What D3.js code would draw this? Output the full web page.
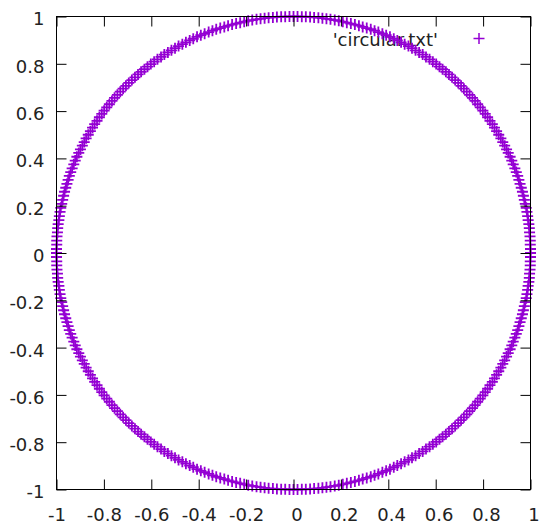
<!DOCTYPE html>
<html>
<head>
<meta charset="utf-8"/>
<script src="https://cdn.jsdelivr.net/npm/d3@7"></script>
<title>circular.txt</title>
<style>
body { margin: 0; background: #fff; }
svg text { font-family: "DejaVu Sans", sans-serif; font-size: 18px; fill: #222; }
</style>
</head>
<body>
<script>
// points, going round the circle
var xs = [
1.000,1.000,0.999,0.999,0.998,0.996,0.995,0.993,0.990,0.988,
0.985,0.982,0.978,0.974,0.970,0.966,0.961,0.956,0.951,0.946,
0.940,0.934,0.927,0.921,0.914,0.906,0.899,0.891,0.883,0.875,
0.866,0.857,0.848,0.839,0.829,0.819,0.809,0.799,0.788,0.777,
0.766,0.755,0.743,0.731,0.719,0.707,0.695,0.682,0.669,0.656,
0.643,0.629,0.616,0.602,0.588,0.574,0.559,0.545,0.530,0.515,
0.500,0.485,0.469,0.454,0.438,0.423,0.407,0.391,0.375,0.358,
0.342,0.326,0.309,0.292,0.276,0.259,0.242,0.225,0.208,0.191,
0.174,0.156,0.139,0.122,0.105,0.087,0.070,0.052,0.035,0.017,
0.000,-0.017,-0.035,-0.052,-0.070,-0.087,-0.105,-0.122,-0.139,-0.156,
-0.174,-0.191,-0.208,-0.225,-0.242,-0.259,-0.276,-0.292,-0.309,-0.326,
-0.342,-0.358,-0.375,-0.391,-0.407,-0.423,-0.438,-0.454,-0.469,-0.485,
-0.500,-0.515,-0.530,-0.545,-0.559,-0.574,-0.588,-0.602,-0.616,-0.629,
-0.643,-0.656,-0.669,-0.682,-0.695,-0.707,-0.719,-0.731,-0.743,-0.755,
-0.766,-0.777,-0.788,-0.799,-0.809,-0.819,-0.829,-0.839,-0.848,-0.857,
-0.866,-0.875,-0.883,-0.891,-0.899,-0.906,-0.914,-0.921,-0.927,-0.934,
-0.940,-0.946,-0.951,-0.956,-0.961,-0.966,-0.970,-0.974,-0.978,-0.982,
-0.985,-0.988,-0.990,-0.993,-0.995,-0.996,-0.998,-0.999,-0.999,-1.000,
-1.000,-1.000,-0.999,-0.999,-0.998,-0.996,-0.995,-0.993,-0.990,-0.988,
-0.985,-0.982,-0.978,-0.974,-0.970,-0.966,-0.961,-0.956,-0.951,-0.946,
-0.940,-0.934,-0.927,-0.921,-0.914,-0.906,-0.899,-0.891,-0.883,-0.875,
-0.866,-0.857,-0.848,-0.839,-0.829,-0.819,-0.809,-0.799,-0.788,-0.777,
-0.766,-0.755,-0.743,-0.731,-0.719,-0.707,-0.695,-0.682,-0.669,-0.656,
-0.643,-0.629,-0.616,-0.602,-0.588,-0.574,-0.559,-0.545,-0.530,-0.515,
-0.500,-0.485,-0.469,-0.454,-0.438,-0.423,-0.407,-0.391,-0.375,-0.358,
-0.342,-0.326,-0.309,-0.292,-0.276,-0.259,-0.242,-0.225,-0.208,-0.191,
-0.174,-0.156,-0.139,-0.122,-0.105,-0.087,-0.070,-0.052,-0.035,-0.017,
0.000,0.017,0.035,0.052,0.070,0.087,0.105,0.122,0.139,0.156,
0.174,0.191,0.208,0.225,0.242,0.259,0.276,0.292,0.309,0.326,
0.342,0.358,0.375,0.391,0.407,0.423,0.438,0.454,0.469,0.485,
0.500,0.515,0.530,0.545,0.559,0.574,0.588,0.602,0.616,0.629,
0.643,0.656,0.669,0.682,0.695,0.707,0.719,0.731,0.743,0.755,
0.766,0.777,0.788,0.799,0.809,0.819,0.829,0.839,0.848,0.857,
0.866,0.875,0.883,0.891,0.899,0.906,0.914,0.921,0.927,0.934,
0.940,0.946,0.951,0.956,0.961,0.966,0.970,0.974,0.978,0.982,
0.985,0.988,0.990,0.993,0.995,0.996,0.998,0.999,0.999,1.000
];
var ys = [
0.000,0.017,0.035,0.052,0.070,0.087,0.105,0.122,0.139,0.156,
0.174,0.191,0.208,0.225,0.242,0.259,0.276,0.292,0.309,0.326,
0.342,0.358,0.375,0.391,0.407,0.423,0.438,0.454,0.469,0.485,
0.500,0.515,0.530,0.545,0.559,0.574,0.588,0.602,0.616,0.629,
0.643,0.656,0.669,0.682,0.695,0.707,0.719,0.731,0.743,0.755,
0.766,0.777,0.788,0.799,0.809,0.819,0.829,0.839,0.848,0.857,
0.866,0.875,0.883,0.891,0.899,0.906,0.914,0.921,0.927,0.934,
0.940,0.946,0.951,0.956,0.961,0.966,0.970,0.974,0.978,0.982,
0.985,0.988,0.990,0.993,0.995,0.996,0.998,0.999,0.999,1.000,
1.000,1.000,0.999,0.999,0.998,0.996,0.995,0.993,0.990,0.988,
0.985,0.982,0.978,0.974,0.970,0.966,0.961,0.956,0.951,0.946,
0.940,0.934,0.927,0.921,0.914,0.906,0.899,0.891,0.883,0.875,
0.866,0.857,0.848,0.839,0.829,0.819,0.809,0.799,0.788,0.777,
0.766,0.755,0.743,0.731,0.719,0.707,0.695,0.682,0.669,0.656,
0.643,0.629,0.616,0.602,0.588,0.574,0.559,0.545,0.530,0.515,
0.500,0.485,0.469,0.454,0.438,0.423,0.407,0.391,0.375,0.358,
0.342,0.326,0.309,0.292,0.276,0.259,0.242,0.225,0.208,0.191,
0.174,0.156,0.139,0.122,0.105,0.087,0.070,0.052,0.035,0.017,
0.000,-0.017,-0.035,-0.052,-0.070,-0.087,-0.105,-0.122,-0.139,-0.156,
-0.174,-0.191,-0.208,-0.225,-0.242,-0.259,-0.276,-0.292,-0.309,-0.326,
-0.342,-0.358,-0.375,-0.391,-0.407,-0.423,-0.438,-0.454,-0.469,-0.485,
-0.500,-0.515,-0.530,-0.545,-0.559,-0.574,-0.588,-0.602,-0.616,-0.629,
-0.643,-0.656,-0.669,-0.682,-0.695,-0.707,-0.719,-0.731,-0.743,-0.755,
-0.766,-0.777,-0.788,-0.799,-0.809,-0.819,-0.829,-0.839,-0.848,-0.857,
-0.866,-0.875,-0.883,-0.891,-0.899,-0.906,-0.914,-0.921,-0.927,-0.934,
-0.940,-0.946,-0.951,-0.956,-0.961,-0.966,-0.970,-0.974,-0.978,-0.982,
-0.985,-0.988,-0.990,-0.993,-0.995,-0.996,-0.998,-0.999,-0.999,-1.000,
-1.000,-1.000,-0.999,-0.999,-0.998,-0.996,-0.995,-0.993,-0.990,-0.988,
-0.985,-0.982,-0.978,-0.974,-0.970,-0.966,-0.961,-0.956,-0.951,-0.946,
-0.940,-0.934,-0.927,-0.921,-0.914,-0.906,-0.899,-0.891,-0.883,-0.875,
-0.866,-0.857,-0.848,-0.839,-0.829,-0.819,-0.809,-0.799,-0.788,-0.777,
-0.766,-0.755,-0.743,-0.731,-0.719,-0.707,-0.695,-0.682,-0.669,-0.656,
-0.643,-0.629,-0.616,-0.602,-0.588,-0.574,-0.559,-0.545,-0.530,-0.515,
-0.500,-0.485,-0.469,-0.454,-0.438,-0.423,-0.407,-0.391,-0.375,-0.358,
-0.342,-0.326,-0.309,-0.292,-0.276,-0.259,-0.242,-0.225,-0.208,-0.191,
-0.174,-0.156,-0.139,-0.122,-0.105,-0.087,-0.070,-0.052,-0.035,-0.017
];
var tickValues = [-1,-0.8,-0.6,-0.4,-0.2,0,0.2,0.4,0.6,0.8,1];
var tickLabels = ["-1","-0.8","-0.6","-0.4","-0.2"," 0"," 0.2"," 0.4"," 0.6"," 0.8"," 1"];
var seriesName = "'circular.txt'";
var purple = "#9400d3";

var W = 539, H = 526;
var plotL = 56.5, plotR = 530.5, plotT = 16.5, plotB = 489.5;

var svg = d3.select("body").append("svg")
	.attr("width", W)
	.attr("height", H);

var x = d3.scaleLinear().domain([-1, 1]).range([plotL, plotR]);
var y = d3.scaleLinear().domain([-1, 1]).range([plotB, plotT]);

function lab(d) { return tickLabels[tickValues.indexOf(d)]; }

//legend text goes under the points
svg.append("text")
	.attr("x", 438)
	.attr("y", 45.5)
	.attr("text-anchor", "end")
	.text(seriesName);

var cross = "M-5.5,0H5.5M0,-5.5V5.5";
svg.append("path")
	.attr("transform", "translate(479,38.5)")
	.attr("d", cross)
	.attr("stroke", purple)
	.attr("stroke-width", 1.5)
	.attr("fill", "none");

var pts = d3.range(xs.length);
svg.append("g").selectAll("path")
	.data(pts)
	.enter().append("path")
	.attr("transform", function(i) { return "translate(" + x(xs[i]) + "," + y(ys[i]) + ")"; })
	.attr("d", cross)
	.attr("stroke", purple)
	.attr("stroke-width", 1.8)
	.attr("fill", "none");

//axes: inward ticks on all four sides, labels left and bottom
var gx = svg.append("g").attr("transform", "translate(0," + plotB + ")")
	.call(d3.axisBottom(x).tickValues(tickValues).tickFormat(lab).tickSize(-10).tickPadding(19));
var gy = svg.append("g").attr("transform", "translate(" + plotL + ",0)")
	.call(d3.axisLeft(y).tickValues(tickValues).tickFormat(lab).tickSize(-10).tickPadding(12));
var gt = svg.append("g").attr("transform", "translate(0," + plotT + ")")
	.call(d3.axisTop(x).tickValues(tickValues).tickFormat("").tickSize(-10));
var gr = svg.append("g").attr("transform", "translate(" + plotR + ",0)")
	.call(d3.axisRight(y).tickValues(tickValues).tickFormat("").tickSize(-10));

[gx, gy, gt, gr].forEach(function(g) {
	g.select(".domain").remove();
	g.attr("font-family", null).attr("font-size", null);
	g.selectAll("line").attr("stroke", "#000");
	g.selectAll("text").attr("fill", "#222").style("white-space", "pre");
});
gy.selectAll("text").attr("dy", "0.47em");

svg.append("rect")
	.attr("x", plotL).attr("y", plotT)
	.attr("width", plotR - plotL).attr("height", plotB - plotT)
	.attr("fill", "none")
	.attr("stroke", "#000");
</script>
</body>
</html>
